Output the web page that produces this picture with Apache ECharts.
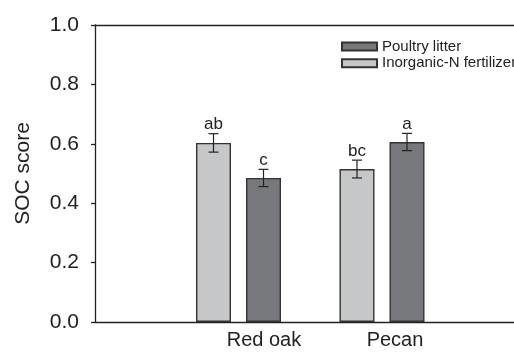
<!DOCTYPE html>
<html>
<head>
<meta charset="utf-8">
<script src="https://cdn.jsdelivr.net/npm/echarts@6/dist/echarts.min.js"></script>
<style>
html,body{margin:0;padding:0;background:#fff;}
#chart{width:514px;height:358px;}
</style>
</head>
<body>
<div id="chart"></div>
<script>
var categories = ['Red oak', 'Pecan'];
var seriesNames = ['Inorganic-N fertilizer', 'Poultry litter'];
var inorganicValues = [0.603, 0.515];
var inorganicErrors = [0.031, 0.030];
var inorganicLetters = ['ab', 'bc'];
var poultryValues = [0.485, 0.606];
var poultryErrors = [0.029, 0.029];
var poultryLetters = ['c', 'a'];
var yTicks = [0, 0.2, 0.4, 0.6, 0.8, 1.0];

var axisData = [''].concat(categories).concat(['']);
var FONT = "'Liberation Sans', Arial, sans-serif";
var INK = '#222';

function errData(values, errors) {
  return values.map(function (v, i) { return [i + 1, v, errors[i]]; });
}

function makeRender(offset, letters) {
  return function (params, api) {
    var cat = api.value(0), mean = api.value(1), err = api.value(2);
    var letter = letters[params.dataIndex] || '';
    var top = api.coord([cat, mean + err]);
    var bot = api.coord([cat, mean - err]);
    var x = top[0] + offset;
    var cap = 5;
    var st = { stroke: INK, lineWidth: 1.2 };
    return {
      type: 'group',
      children: [
        { type: 'line', shape: { x1: x, y1: top[1], x2: x, y2: bot[1] }, style: st },
        { type: 'line', shape: { x1: x - cap, y1: top[1], x2: x + cap, y2: top[1] }, style: st },
        { type: 'line', shape: { x1: x - cap, y1: bot[1], x2: x + cap, y2: bot[1] }, style: st },
        { type: 'text', style: { text: letter, x: x, y: top[1] - 0.5, align: 'center', verticalAlign: 'bottom',
          textAlign: 'center', textVerticalAlign: 'bottom',
          fontSize: 17, fontFamily: FONT, fill: INK } }
      ]
    };
  };
}

var chart = echarts.init(document.getElementById('chart'), null, { renderer: 'canvas' });
chart.setOption({
  animation: false,
  backgroundColor: '#fff',
  textStyle: { fontFamily: FONT },
  legend: {
    data: ['Poultry litter', 'Inorganic-N fertilizer'],
    orient: 'vertical',
    left: 336,
    top: 34,
    padding: 5,
    itemWidth: 35,
    itemHeight: 8,
    itemGap: 1.7,
    icon: 'rect',
    textStyle: { fontSize: 15, color: INK, fontFamily: FONT }
  },
  grid: { left: 95, top: 25, bottom: 36, right: -11.5, containLabel: false, outerBoundsMode: 'none' },
  xAxis: [{
    type: 'category',
    data: axisData,
    boundaryGap: false,
    axisLine: { lineStyle: { color: INK, width: 1.3 } },
    axisTick: { show: false },
    axisLabel: {
      interval: 0,
      margin: 8,
      formatter: function (v) {
        if (v === categories[0]) return '{a|' + v + '}';
        if (v === categories[1]) return '{b|' + v + '}';
        return '';
      },
      rich: {
        a: { fontSize: 20, color: INK, fontFamily: FONT, padding: [0, 0, 0, 51] },
        b: { fontSize: 20, color: INK, fontFamily: FONT, padding: [0, 0, 0, 26] }
      }
    },
    splitLine: { show: false }
  }, {
    type: 'category',
    data: axisData,
    boundaryGap: false,
    position: 'top',
    axisLine: { show: true, lineStyle: { color: INK, width: 1.3 } },
    axisTick: { show: false },
    axisLabel: { show: false },
    splitLine: { show: false }
  }],
  yAxis: {
    type: 'value',
    min: 0,
    max: 1,
    interval: 0.2,
    name: 'SOC score',
    nameLocation: 'middle',
    nameGap: 61,
    nameTextStyle: { fontSize: 21, color: INK, fontFamily: FONT },
    axisLine: { show: true, lineStyle: { color: INK, width: 1.3 } },
    axisTick: { show: true, inside: false, length: 4, lineStyle: { color: INK, width: 1.3 } },
    axisLabel: {
      margin: 16, fontSize: 21, color: INK, fontFamily: FONT,
      formatter: function (v) { return v.toFixed(1); }
    },
    splitLine: { show: false }
  },
  series: [
    {
      name: seriesNames[0],
      type: 'bar',
      data: [null].concat(inorganicValues).concat([null]),
      barWidth: 35,
      barGap: '42.86%',
      itemStyle: { color: '#c6c7c9', borderColor: '#333', borderWidth: 1.4 }
    },
    {
      name: seriesNames[1],
      type: 'bar',
      data: [null].concat(poultryValues).concat([null]),
      barWidth: 35,
      itemStyle: { color: '#77787c', borderColor: '#333', borderWidth: 1.4 }
    },
    {
      type: 'custom',
      renderItem: makeRender(-25, inorganicLetters),
      data: errData(inorganicValues, inorganicErrors),
      encode: { x: 0, y: 1 },
      z: 10,
      silent: true
    },
    {
      type: 'custom',
      renderItem: makeRender(25, poultryLetters),
      data: errData(poultryValues, poultryErrors),
      encode: { x: 0, y: 1 },
      z: 10,
      silent: true
    }
  ]
});
</script>
</body>
</html>
